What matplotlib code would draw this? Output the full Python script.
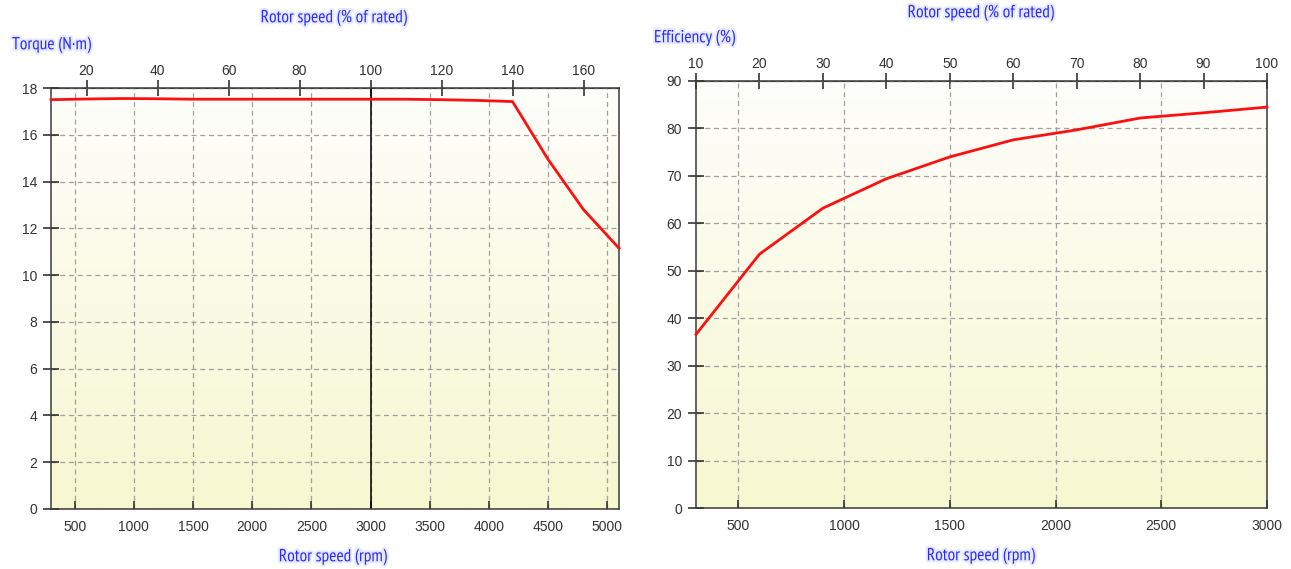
import numpy as np
import matplotlib
matplotlib.use("Agg")
import matplotlib.pyplot as plt
import matplotlib.patheffects as pe
from matplotlib.colors import LinearSegmentedColormap

plt.rcParams['font.family'] = ['Liberation Sans', 'DejaVu Sans']
LABEL_FONT = ['Liberation Sans Narrow', 'Arial Narrow', 'PT Sans Narrow', 'Roboto Condensed', 'Archivo Narrow', 'Liberation Sans']

# ---- data ----
rated_rpm = 3000
torque_rpm = [300, 600, 900, 1200, 1500, 1800, 2100, 2400, 2700, 3000, 3300, 3600, 3900, 4200, 4500, 4800, 5100]
torque_nm = [17.5, 17.53, 17.55, 17.54, 17.52, 17.52, 17.52, 17.52, 17.52, 17.52, 17.52, 17.5, 17.47, 17.42, 14.95, 12.8, 11.15]

eff_rpm = [300, 600, 900, 1200, 1500, 1800, 2100, 2400, 2700, 3000]
eff_pct = [36.6, 53.5, 63.2, 69.4, 74.0, 77.6, 79.7, 82.2, 83.3, 84.5]

left_xticks = [500, 1000, 1500, 2000, 2500, 3000, 3500, 4000, 4500, 5000]
left_yticks = [0, 2, 4, 6, 8, 10, 12, 14, 16, 18]
left_top_ticks = [20, 40, 60, 80, 100, 120, 140, 160]
right_xticks = [500, 1000, 1500, 2000, 2500, 3000]
right_yticks = [0, 10, 20, 30, 40, 50, 60, 70, 80, 90]
right_top_ticks = [10, 20, 30, 40, 50, 60, 70, 80, 90, 100]

W, H = 1291, 569
fig = plt.figure(figsize=(W / 100, H / 100), dpi=100)
fig.patch.set_facecolor('white')

label_color = '#2a2aff'
tick_color = '#333333'
spine_color = '#3a3a3a'
glow = [pe.withStroke(linewidth=3, foreground='#e6eaff')]

bg_cmap = LinearSegmentedColormap.from_list('bg', ['#f7f7d0', '#fefefb'])


def px_rect(l, t, r, b):
    return [l / W, 1 - b / H, (r - l) / W, (b - t) / H]


def style_axes(ax, xlim, ylim, xticks, yticks, top_ticks):
    ax.set_xlim(*xlim)
    ax.set_ylim(*ylim)
    ax.imshow(np.linspace(0, 1, 256).reshape(-1, 1), cmap=bg_cmap, aspect='auto',
              extent=[xlim[0], xlim[1], ylim[0], ylim[1]], origin='lower', zorder=0)
    ax.set_xticks(xticks)
    ax.set_yticks(yticks)
    ax.grid(True, color='#a0a0a0', linestyle=(0, (4, 3)), linewidth=0.9, zorder=1)
    ax.tick_params(axis='x', direction='in', length=6, width=1.1, color='#222222',
                   labelsize=10, labelcolor=tick_color, pad=8)
    ax.tick_params(axis='y', direction='inout', length=12, width=1.1, color='#222222',
                   labelsize=10, labelcolor=tick_color, pad=4)
    for s in ax.spines.values():
        s.set_color(spine_color)
        s.set_linewidth(1.1)
    sec = ax.secondary_xaxis('top', functions=(lambda x: x / rated_rpm * 100,
                                               lambda p: p * rated_rpm / 100))
    sec.set_xticks(top_ticks)
    sec.tick_params(direction='inout', length=11, width=1.1, color='#222222',
                    labelsize=10, labelcolor=tick_color, pad=2)
    sec.spines['top'].set_color(spine_color)
    return sec


def label(x, y, s, ha='center'):
    fig.text(x / W, 1 - y / H, s, ha=ha, va='center', color=label_color,
             fontsize=12.6, family=LABEL_FONT, path_effects=glow)


# ---- left: torque ----
ax1 = fig.add_axes(px_rect(51, 88, 619, 509))
style_axes(ax1, (300, 5100), (0, 18), left_xticks, left_yticks, left_top_ticks)
ax1.axvline(rated_rpm, color='black', linewidth=1.1, zorder=2)
ax1.plot(torque_rpm, torque_nm, color='#ff1010', linewidth=2, zorder=3, clip_on=False)

label(334, 18, 'Rotor speed (% of rated)')
label(12, 45, 'Torque (N·m)', ha='left')
label(333, 557, 'Rotor speed (rpm)')

# ---- right: efficiency ----
ax2 = fig.add_axes(px_rect(696, 81, 1267, 508))
style_axes(ax2, (300, 3000), (0, 90), right_xticks, right_yticks, right_top_ticks)
ax2.plot(eff_rpm, eff_pct, color='#ff1010', linewidth=2, zorder=3, clip_on=False)

label(981, 13, 'Rotor speed (% of rated)')
label(654, 38, 'Efficiency (%)', ha='left')
label(981, 556, 'Rotor speed (rpm)')

fig.savefig('out.png', dpi=100)
